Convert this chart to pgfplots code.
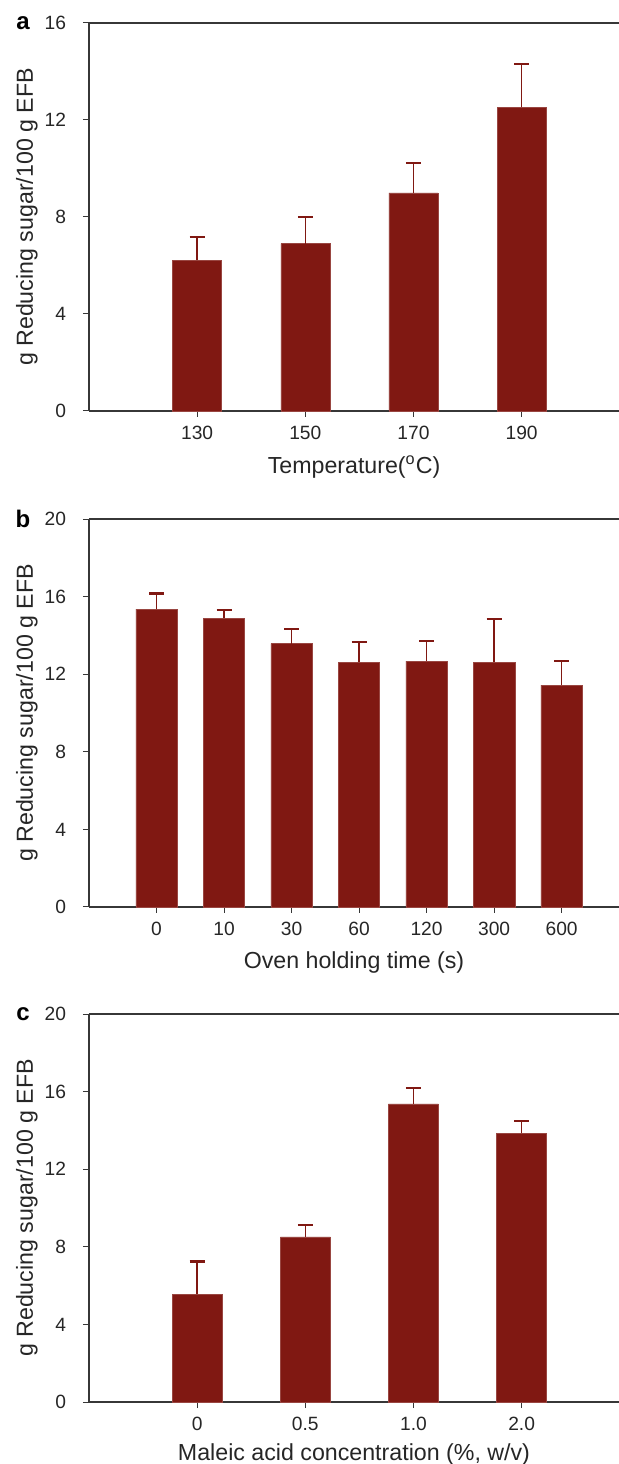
\documentclass[border=0pt]{standalone}
\usepackage{fontspec}
\setmainfont{Liberation Sans}
\usepackage{pgfplots}
\pgfplotsset{compat=1.18}
\definecolor{barred}{RGB}{128,24,18}
\definecolor{axgray}{RGB}{55,55,55}

\pgfplotsset{
  panel/.style={
    scale only axis, width=265pt, height=194pt,
    anchor=south west,
    axis x line=box, axis y line=left,
    axis line style={-, draw=axgray, line width=0.6pt},
    every outer y axis line/.append style={-},
    xtick pos=bottom, ytick pos=left,
    tick align=outside, major tick length=3pt,
    tick style={draw=axgray, line width=0.5pt},
    xtick=data, ymin=0, xmin=0,
    /pgf/number format/assume math mode=true,
    tick label style={font=\fontsize{9.6}{11}\selectfont, text=black!85},
    yticklabel style={xshift=-5pt},
    xticklabel style={yshift=-1pt},
    label style={font=\fontsize{11.6}{13}\selectfont, text=black!85},
    ylabel style={at={(axis description cs:-0.106,0.5)}, rotate=0, anchor=base},
    clip=false,
  },
  sugarbar/.style={
    ybar, bar shift=0pt, fill=barred, draw=barred!80!white, line width=0.3pt,
    error bars/y dir=plus, error bars/y explicit,
    error bars/error mark=|,
    error bars/error bar style={draw=barred, line width=0.7pt},
    error bars/error mark options={draw=barred, line width=1.1pt, mark size=3.75pt},
  },
}

\begin{document}
\begin{tikzpicture}
\path[use as bounding box] (0,0) rectangle (309.5pt,732pt);

% panel a
\begin{axis}[panel, at={(44.5pt,526.5pt)},
    xmax=4.9, ymax=16, ytick={0,4,8,12,16},
    xticklabels={130,150,170,190},
    xlabel={Temperature(\textsuperscript{o}C)},
    xlabel style={at={(axis description cs:0.5,-0.160)}, anchor=base},
    ylabel={g Reducing sugar/100 g EFB}]
  \addplot[sugarbar, bar width=24.5pt] coordinates {
    (1,6.21) +- (0,0.98)
    (2,6.90) +- (0,1.11)
    (3,8.99) +- (0,1.25)
    (4,12.52) +- (0,1.79)
  };
  \node[font=\fontsize{12}{14}\selectfont\bfseries, anchor=base] at (axis description cs:-0.1245,0.983) {a};
\end{axis}

% panel b
\begin{axis}[panel, at={(44.5pt,278.5pt)},
    xmax=7.85, ymax=20, ytick={0,4,8,12,16,20},
    xticklabels={0,10,30,60,120,300,600},
    xlabel={Oven holding time (s)},
    xlabel style={at={(axis description cs:0.5,-0.158)}, anchor=base},
    ylabel={g Reducing sugar/100 g EFB}]
  \addplot[sugarbar, bar width=20.7pt] coordinates {
    (1,15.36) +- (0,0.80)
    (2,14.88) +- (0,0.41)
    (3,13.57) +- (0,0.74)
    (4,12.62) +- (0,1.03)
    (5,12.67) +- (0,1.05)
    (6,12.62) +- (0,2.22)
    (7,11.44) +- (0,1.25)
  };
  \node[font=\fontsize{12}{14}\selectfont\bfseries, anchor=base] at (axis description cs:-0.1245,0.979) {b};
\end{axis}

% panel c
\begin{axis}[panel, at={(44.5pt,31pt)},
    xmax=4.9, ymax=20, ytick={0,4,8,12,16,20},
    xticklabels={0,0.5,1.0,2.0},
    xlabel={Maleic acid concentration (\%, w/v)},
    xlabel style={at={(axis description cs:0.5,-0.150)}, anchor=base},
    ylabel={g Reducing sugar/100 g EFB}]
  \addplot[sugarbar, bar width=25pt] coordinates {
    (1,5.56) +- (0,1.68)
    (2,8.51) +- (0,0.60)
    (3,15.37) +- (0,0.82)
    (4,13.85) +- (0,0.64)
  };
  \node[font=\fontsize{12}{14}\selectfont\bfseries, anchor=base] at (axis description cs:-0.1245,0.982) {c};
\end{axis}
\end{tikzpicture}
\end{document}
